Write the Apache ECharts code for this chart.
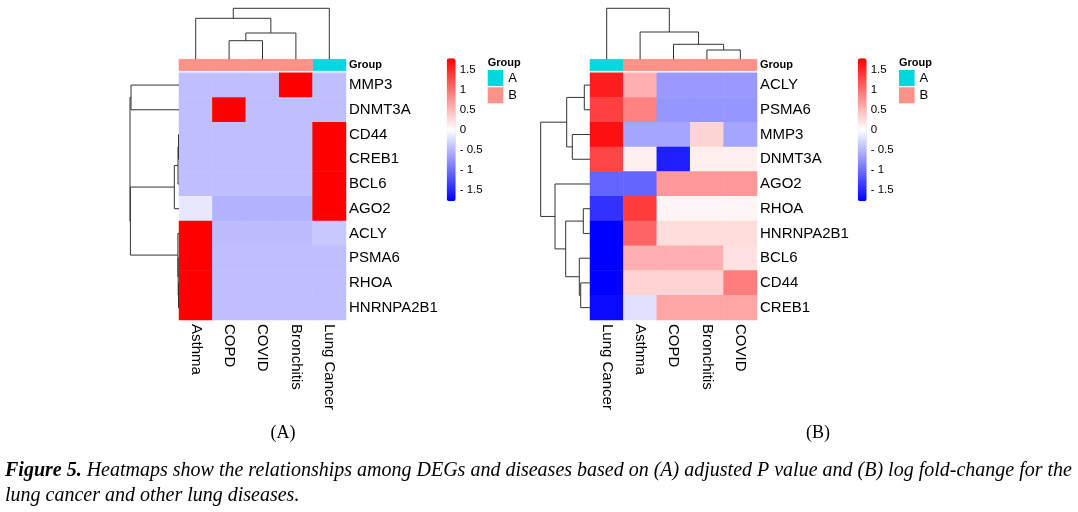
<!DOCTYPE html>
<html><head><meta charset="utf-8">
<script src="https://cdn.jsdelivr.net/npm/echarts@6/dist/echarts.min.js"></script>
<style>html,body{margin:0;padding:0;background:#fff}#c{width:1078px;height:512px}</style>
</head><body><div id="c"></div>
<script>
// ---------- Panel A (adjusted P value, row-scaled) ----------
const colsA = ['Asthma','COPD','COVID','Bronchitis','Lung Cancer'];
const rowsA = ['MMP3','DNMT3A','CD44','CREB1','BCL6','AGO2','ACLY','PSMA6','RHOA','HNRNPA2B1'];
const valuesA = [
  [-0.447,-0.447,-0.447, 1.789,-0.447],
  [-0.447, 1.789,-0.447,-0.447,-0.447],
  [-0.447,-0.447,-0.447,-0.447, 1.789],
  [-0.447,-0.447,-0.447,-0.447, 1.789],
  [-0.447,-0.447,-0.447,-0.447, 1.789],
  [-0.17, -0.54, -0.54, -0.54,  1.789],
  [ 1.789,-0.47, -0.47, -0.47, -0.38],
  [ 1.789,-0.447,-0.447,-0.447,-0.447],
  [ 1.789,-0.447,-0.447,-0.447,-0.447],
  [ 1.789,-0.447,-0.447,-0.447,-0.447]
];
const groupsA = ['B','B','B','B','A'];
// hclust-style merges: negative = leaf (1-based, display order), positive = earlier merge; third = height
const colMergeA = [[-2,-3,18.6],[1,-4,26.3],[-1,2,41],[3,-5,51]];
const rowMergeA = [[-3,-4,0.5],[1,-5,1.0],[2,-6,4.7],[-9,-10,0.5],[-8,4,0.8],[-7,5,1.1],[-1,-2,48],[3,6,48.6],[7,8,49]];

// ---------- Panel B (log fold-change, row-scaled) ----------
const colsB = ['Lung Cancer','Asthma','COPD','Bronchitis','COVID'];
const rowsB = ['ACLY','PSMA6','MMP3','DNMT3A','AGO2','RHOA','HNRNPA2B1','BCL6','CD44','CREB1'];
const valuesB = [
  [ 1.57, 0.56,-0.71,-0.71,-0.71],
  [ 1.33, 0.87,-0.73,-0.73,-0.73],
  [ 1.67,-0.63,-0.63, 0.30,-0.63],
  [ 1.29, 0.12,-1.57, 0.12, 0.12],
  [-1.08,-1.08, 0.72, 0.72, 0.72],
  [-1.43, 1.36, 0.07, 0.07, 0.07],
  [-1.78, 1.08, 0.24, 0.24, 0.24],
  [-1.78, 0.56, 0.56, 0.56, 0.21],
  [-1.78, 0.31, 0.31, 0.31, 0.91],
  [-1.71,-0.21, 0.63, 0.63, 0.63]
];
const groupsB = ['A','B','B','B','B'];
const colMergeB = [[-4,-5,9.3],[-3,1,15],[-2,2,27.3],[-1,3,51]];
const rowMergeB = [[-1,-2,5.7],[-3,-4,17.7],[1,2,23.3],[-6,-7,6.7],[-9,-10,9.3],[-8,5,10.7],[4,6,24.3],[-5,7,35],[3,8,49.3]];

const colorbarTicks = [-1.5,-1,-0.5,0,0.5,1,1.5];
const colorRange = [-1.78, 1.78];
const groupNames = ['A','B'];
const groupColors = {A:'#00D8DE', B:'#FF9189'};

const SANS = '"Liberation Sans", Arial, sans-serif';
const SERIF = '"Liberation Serif", "Times New Roman", serif';

function dendro(merges){
  const pos=[], hts=[], out=[];
  merges.forEach((m,i)=>{
    const [a,b,h]=m;
    const pa = a<0 ? (-a-1)+0.5 : pos[a-1], ha = a<0 ? 0 : hts[a-1];
    const pb = b<0 ? (-b-1)+0.5 : pos[b-1], hb = b<0 ? 0 : hts[b-1];
    pos[i]=(pa+pb)/2; hts[i]=h;
    out.push([pa,ha,pb,hb,h]);
  });
  return out;
}
function heatData(vals){
  const d=[]; vals.forEach((row,r)=>row.forEach((v,c)=>d.push([c,r,v]))); return d;
}

const grids=[], xAxes=[], yAxes=[], series=[], visualMaps=[], legends=[], graphics=[];
const hidden = {show:false};

function panel(cfg){
  const {x0, cols, rows, vals, groups, colMerge, rowMerge, cbLeft, lgLeft} = cfg;
  const hmTop=72.7, hmH=247.3, hmW=167;
  // heatmap grid
  let g = grids.length;
  grids.push({left:x0, top:hmTop, width:hmW, height:hmH});
  xAxes.push({type:'category', gridIndex:g, data:cols, position:'bottom',
    axisLine:hidden, axisTick:hidden, splitLine:hidden,
    axisLabel:{interval:0, rotate:-90, margin:4, fontSize:15, color:'#000', fontFamily:SANS}});
  yAxes.push({type:'category', gridIndex:g, data:rows, inverse:true, position:'right',
    axisLine:hidden, axisTick:hidden, splitLine:hidden,
    axisLabel:{interval:0, margin:3, fontSize:15, color:'#000', fontFamily:SANS}});
  const hmSeries = series.length;
  series.push({type:'heatmap', xAxisIndex:g, yAxisIndex:g, data:heatData(vals), silent:true,
    itemStyle:{borderWidth:0}, emphasis:{disabled:true}});
  visualMaps.push({type:'continuous', seriesIndex:hmSeries, min:colorRange[0], max:colorRange[1],
    calculable:false, left:cbLeft, top:58.3, itemWidth:9, itemHeight:143, padding:0,
    text:null, hoverLink:false, inRange:{color:['#0000FF','#FFFFFF','#FF0000']}});
  // group annotation bar
  g = grids.length;
  grids.push({left:x0, top:59.3, width:hmW, height:11.4});
  xAxes.push({type:'category', gridIndex:g, data:cols, show:false});
  yAxes.push({type:'category', gridIndex:g, data:['Group'], position:'right',
    axisLine:hidden, axisTick:hidden, splitLine:hidden,
    axisLabel:{margin:3, fontSize:11, fontWeight:'bold', color:'#000', fontFamily:SANS}});
  groupNames.forEach(name=>{
    const d=[]; groups.forEach((gr,i)=>{ if(gr===name) d.push([i,0]); });
    series.push({type:'custom', name, xAxisIndex:g, yAxisIndex:g, silent:true,
      itemStyle:{color:groupColors[name]}, data:d,
      renderItem(params, api){
        const c=api.coord([api.value(0),api.value(1)]); const s=api.size([1,1]);
        return {type:'rect', shape:{x:c[0]-s[0]/2, y:c[1]-s[1]/2, width:s[0], height:s[1]},
          style:{fill:api.visual('color'), stroke:api.visual('color'), lineWidth:0.6}};
      }});
  });
  // column dendrogram
  g = grids.length;
  const cRoot = colMerge[colMerge.length-1][2];
  grids.push({left:x0, top:59.3-51, width:hmW, height:51});
  xAxes.push({type:'value', gridIndex:g, min:0, max:cols.length, show:false});
  yAxes.push({type:'value', gridIndex:g, min:0, max:cRoot, show:false});
  series.push({type:'custom', xAxisIndex:g, yAxisIndex:g, silent:true, clip:false, data:dendro(colMerge),
    renderItem(params, api){
      const pa=api.value(0), ha=api.value(1), pb=api.value(2), hb=api.value(3), h=api.value(4);
      return {type:'polyline', shape:{points:[[pa,ha],[pa,h],[pb,h],[pb,hb]].map(p=>api.coord(p))},
        style:{stroke:'#333', lineWidth:1, fill:null}};
    }});
  // row dendrogram
  g = grids.length;
  const rRoot = rowMerge[rowMerge.length-1][2];
  grids.push({left:x0-rRoot, top:hmTop, width:rRoot, height:hmH});
  xAxes.push({type:'value', gridIndex:g, min:0, max:rRoot, inverse:true, show:false});
  yAxes.push({type:'value', gridIndex:g, min:0, max:rows.length, inverse:true, show:false});
  series.push({type:'custom', xAxisIndex:g, yAxisIndex:g, silent:true, clip:false, data:dendro(rowMerge),
    renderItem(params, api){
      const pa=api.value(0), ha=api.value(1), pb=api.value(2), hb=api.value(3), h=api.value(4);
      return {type:'polyline', shape:{points:[[ha,pa],[h,pa],[h,pb],[hb,pb]].map(p=>api.coord(p))},
        style:{stroke:'#333', lineWidth:1, fill:null}};
    }});
  // colorbar tick labels
  g = grids.length;
  grids.push({left:cbLeft, top:58.3, width:9, height:143});
  xAxes.push({type:'value', gridIndex:g, show:false});
  yAxes.push({type:'value', gridIndex:g, min:colorRange[0], max:colorRange[1], position:'right',
    axisLine:hidden, axisTick:hidden, splitLine:hidden,
    axisLabel:{customValues:colorbarTicks, margin:4, fontSize:11.5, color:'#000', fontFamily:SANS,
      formatter:v=> v<0 ? '- '+Math.abs(v) : String(v)}});
  // legend
  legends.push({left:lgLeft, top:70, orient:'vertical', padding:0, itemGap:1.3, itemWidth:15.6, itemHeight:16,
    icon:'rect', selectedMode:false, data:groupNames, textStyle:{fontSize:13, color:'#000', fontFamily:SANS}});
  graphics.push({type:'text', x:lgLeft, y:62.7, style:{text:'Group', font:'bold 11px '+SANS, fill:'#000',
    textVerticalAlign:'middle'}});
}

panel({x0:179, cols:colsA, rows:rowsA, vals:valuesA, groups:groupsA, colMerge:colMergeA, rowMerge:rowMergeA, cbLeft:446.7, lgLeft:487.7});
panel({x0:590, cols:colsB, rows:rowsB, vals:valuesB, groups:groupsB, colMerge:colMergeB, rowMerge:rowMergeB, cbLeft:857.7, lgLeft:899});

graphics.push({type:'text', x:283, y:433, style:{text:'(A)', font:'18px '+SERIF, fill:'#000', textAlign:'center', textVerticalAlign:'middle'}});
graphics.push({type:'text', x:818, y:433, style:{text:'(B)', font:'18px '+SERIF, fill:'#000', textAlign:'center', textVerticalAlign:'middle'}});
graphics.push({type:'text', x:5, y:471, style:{
  text:'{b|Figure 5.} Heatmaps show the relationships among DEGs and diseases based on (A) adjusted P value and (B) log fold-change for the',
  fontFamily:SERIF, fontStyle:'italic', fontSize:20, fill:'#000', textVerticalAlign:'middle',
  rich:{b:{fontFamily:SERIF, fontStyle:'italic', fontWeight:'bold', fontSize:20, fill:'#000'}}}});
graphics.push({type:'text', x:5, y:496, style:{
  text:'lung cancer and other lung diseases.', fontFamily:SERIF, fontStyle:'italic', fontSize:20, fill:'#000', textVerticalAlign:'middle'}});

const chart = echarts.init(document.getElementById('c'), null, {renderer:'canvas'});
chart.setOption({
  animation:false, backgroundColor:'#fff',
  grid:grids, xAxis:xAxes, yAxis:yAxes, series, visualMap:visualMaps, legend:legends, graphic:graphics
});
</script></body></html>
